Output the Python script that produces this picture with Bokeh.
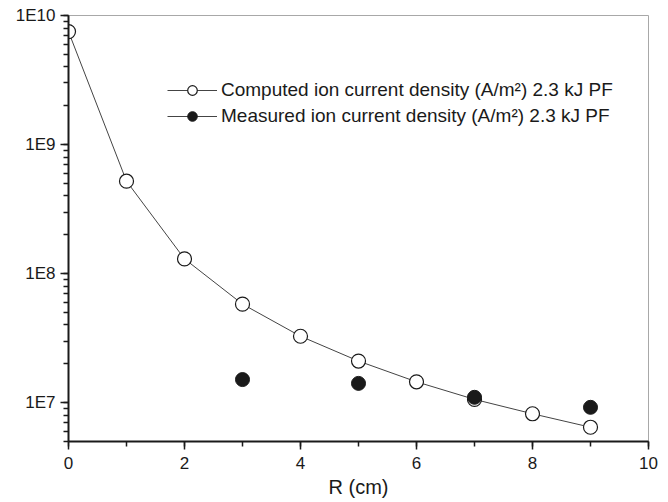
from bokeh.plotting import figure
from bokeh.models import (Range1d, SingleIntervalTicker, CustomJSTickFormatter,
                          Legend, LegendItem, ColumnDataSource)
from bokeh.embed import file_html
from bokeh.resources import INLINE

# ---- data ----
r_computed = [0, 1, 2, 3, 4, 5, 6, 7, 8, 9]
j_computed = [7.5e9, 5.2e8, 1.30e8, 5.8e7, 3.27e7, 2.10e7, 1.45e7, 1.06e7, 8.2e6, 6.45e6]
r_measured = [3, 5, 7, 9]
j_measured = [1.51e7, 1.41e7, 1.10e7, 9.2e6]
label_computed = "Computed ion current density (A/m\u00b2) 2.3 kJ PF"
label_measured = "Measured ion current density (A/m\u00b2) 2.3 kJ PF"
x_label = "R (cm)"

FONT = "Liberation Sans"

p = figure(width=660, height=500, y_axis_type="log",
           x_range=Range1d(0, 10), y_range=Range1d(5e6, 1e10),
           output_backend="svg", toolbar_location=None,
           min_border_left=68, min_border_right=12, min_border_top=15,
           min_border_bottom=40)

p.background_fill_color = "white"
p.border_fill_color = "white"
p.outline_line_color = "#a8a8a8"
p.outline_line_width = 1
p.xgrid.visible = False
p.ygrid.visible = False

src_c = ColumnDataSource(dict(x=r_computed, y=j_computed))
src_m = ColumnDataSource(dict(x=r_measured, y=j_measured))

line_c = p.line("x", "y", source=src_c, line_color="#444444", line_width=1)
scat_c = p.scatter("x", "y", source=src_c, marker="circle", size=14,
                   fill_color="white", line_color="#1a1a1a", line_width=1.2)
# legend-only line sample for the measured series (no line between measured points)
line_m = p.line(x=[float("nan")], y=[float("nan")], line_color="#444444", line_width=1)
scat_m = p.scatter("x", "y", source=src_m, marker="circle", size=14,
                   fill_color="#1a1a1a", line_color="#1a1a1a", line_width=1)

# axes
for ax in (p.xaxis[0], p.yaxis[0]):
    ax.axis_line_color = "#1a1a1a"
    ax.axis_line_width = 2
    ax.major_tick_line_color = "#1a1a1a"
    ax.minor_tick_line_color = "#1a1a1a"
    ax.major_tick_line_width = 1.5
    ax.minor_tick_line_width = 1.5
    ax.major_tick_in = 0
    ax.major_tick_out = 8
    ax.minor_tick_in = 0
    ax.minor_tick_out = 5
    ax.major_label_text_font = FONT
    ax.major_label_text_font_size = "17px"
    ax.major_label_text_color = "#1a1a1a"

p.xaxis.ticker = SingleIntervalTicker(interval=2, num_minor_ticks=2)
p.xaxis.major_label_standoff = 7
p.xaxis.axis_label = x_label
p.xaxis.axis_label_text_font = FONT
p.xaxis.axis_label_text_font_size = "20px"
p.xaxis.axis_label_text_font_style = "normal"
p.xaxis.axis_label_text_color = "#1a1a1a"
p.xaxis.axis_label_standoff = 4

p.yaxis.formatter = CustomJSTickFormatter(code="return '1E' + Math.round(Math.log10(tick));")
p.yaxis.major_label_standoff = 5

legend = Legend(items=[
    LegendItem(label=label_computed, renderers=[line_c, scat_c]),
    LegendItem(label=label_measured, renderers=[line_m, scat_m]),
], location=(99, 313))
legend.padding = 0
legend.margin = 0
legend.spacing = 2
legend.glyph_width = 50
legend.glyph_height = 24
legend.label_standoff = 4
legend.label_text_font = FONT
legend.label_text_font_size = "19px"
legend.label_text_color = "#1a1a1a"
legend.label_height = 24
legend.border_line_color = None
legend.background_fill_alpha = 0
p.add_layout(legend)

open("out.html", "w").write(file_html(p, INLINE))
